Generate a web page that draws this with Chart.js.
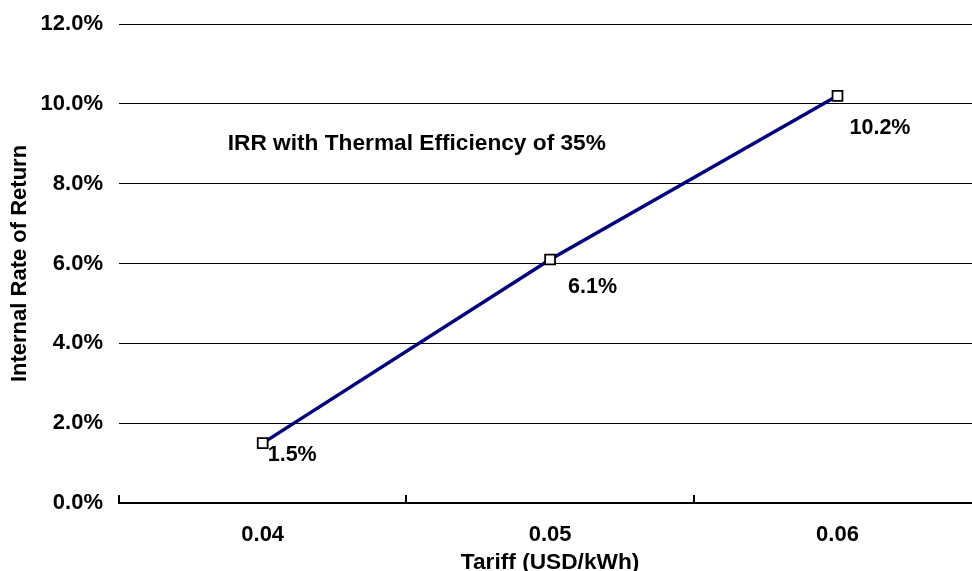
<!DOCTYPE html>
<html>
<head>
<meta charset="utf-8">
<script src="https://cdn.jsdelivr.net/npm/chart.js@4/dist/chart.umd.min.js"></script>
<style>
  html, body { margin: 0; padding: 0; overflow: hidden; background: #fff; }
  #wrap { width: 990px; height: 571px; }
</style>
</head>
<body>
<div id="wrap"><canvas id="irrChart"></canvas></div>
<script>
// Data dari grafik
const tariffs = ['0.04', '0.05', '0.06'];
const irrValues = [1.5, 6.1, 10.2];
const yTicks = [0, 2, 4, 6, 8, 10, 12];
const noteText = 'IRR with Thermal Efficiency of 35%';

// Posisi label data (digeser manual seperti di Excel)
const labelOffsets = [[5, 12], [18, 28], [12, 32]];

const FONT = '"Liberation Sans", Arial, sans-serif';

// Plugin kecil untuk label data dan catatan teks
const labelPlugin = {
    id: 'labels',
    afterDatasetsDraw(chart) {
        const ctx = chart.ctx;
        const x = chart.scales.x;
        const y = chart.scales.y;
        const meta = chart.getDatasetMeta(0);
        ctx.save();
        ctx.fillStyle = '#000';
        ctx.textBaseline = 'middle';
        ctx.textAlign = 'left';
        ctx.font = 'bold 21.5px ' + FONT;
        meta.data.forEach((pt, i) => {
            const off = labelOffsets[i];
            ctx.fillText(irrValues[i].toFixed(1) + '%', pt.x + off[0], pt.y + off[1]);
        });
        // catatan di dalam area grafik
        ctx.font = 'bold 22.7px ' + FONT;
        ctx.fillText(noteText, x.getPixelForValue(0) - 35, y.getPixelForValue(9.0));
        ctx.restore();
    }
};

const config = {
    type: 'line',
    data: {
        labels: tariffs,
        datasets: [{
            label: 'IRR',
            data: irrValues,
            borderColor: '#000080',
            borderWidth: 3.5,
            pointStyle: 'rect',
            pointRadius: 7,
            pointBorderWidth: 1.8,
            pointBorderColor: '#000',
            pointBackgroundColor: '#fff',
            tension: 0
        }]
    },
    options: {
        responsive: true,
        maintainAspectRatio: false,
        animation: false,
        layout: { padding: { top: 24, right: 5, left: 0, bottom: 0 } },
        plugins: {
            legend: { display: false },
            tooltip: { enabled: false }
        },
        scales: {
            x: {
                offset: true,
                grid: {
                    offset: true,
                    drawOnChartArea: false,
                    drawTicks: true,
                    tickLength: -8,
                    lineWidth: 2,
                    color: '#000'
                },
                border: { display: true, color: '#000', width: 2 },
                ticks: {
                    color: '#000',
                    padding: 27,
                    font: { family: FONT, size: 22, weight: 'bold' }
                },
                title: {
                    display: true,
                    text: 'Tariff (USD/kWh)',
                    color: '#000',
                    padding: { top: 0, bottom: -3 },
                    font: { family: FONT, size: 22.7, weight: 'bold', lineHeight: 1 }
                },
                afterFit: s => { s.height = 68; }
            },
            y: {
                min: 0,
                max: 12,
                afterBuildTicks: s => { s.ticks = yTicks.map(v => ({ value: v })); },
                grid: { color: '#000', lineWidth: 1, drawTicks: false },
                border: { display: false },
                ticks: {
                    color: '#000',
                    padding: 16,
                    font: { family: FONT, size: 22, weight: 'bold' },
                    callback: v => v.toFixed(1) + '%'
                },
                title: {
                    display: true,
                    text: 'Internal Rate of Return',
                    color: '#000',
                    padding: { top: 7, bottom: 0 },
                    font: { family: FONT, size: 22, weight: 'bold' }
                },
                afterFit: s => {
                    s.width = 119;
                    s.paddingTop = 0;
                    s.paddingBottom = 0;
                }
            }
        }
    },
    plugins: [labelPlugin]
};

const ctx = document.getElementById('irrChart').getContext('2d');
new Chart(ctx, config);
</script>
</body>
</html>
